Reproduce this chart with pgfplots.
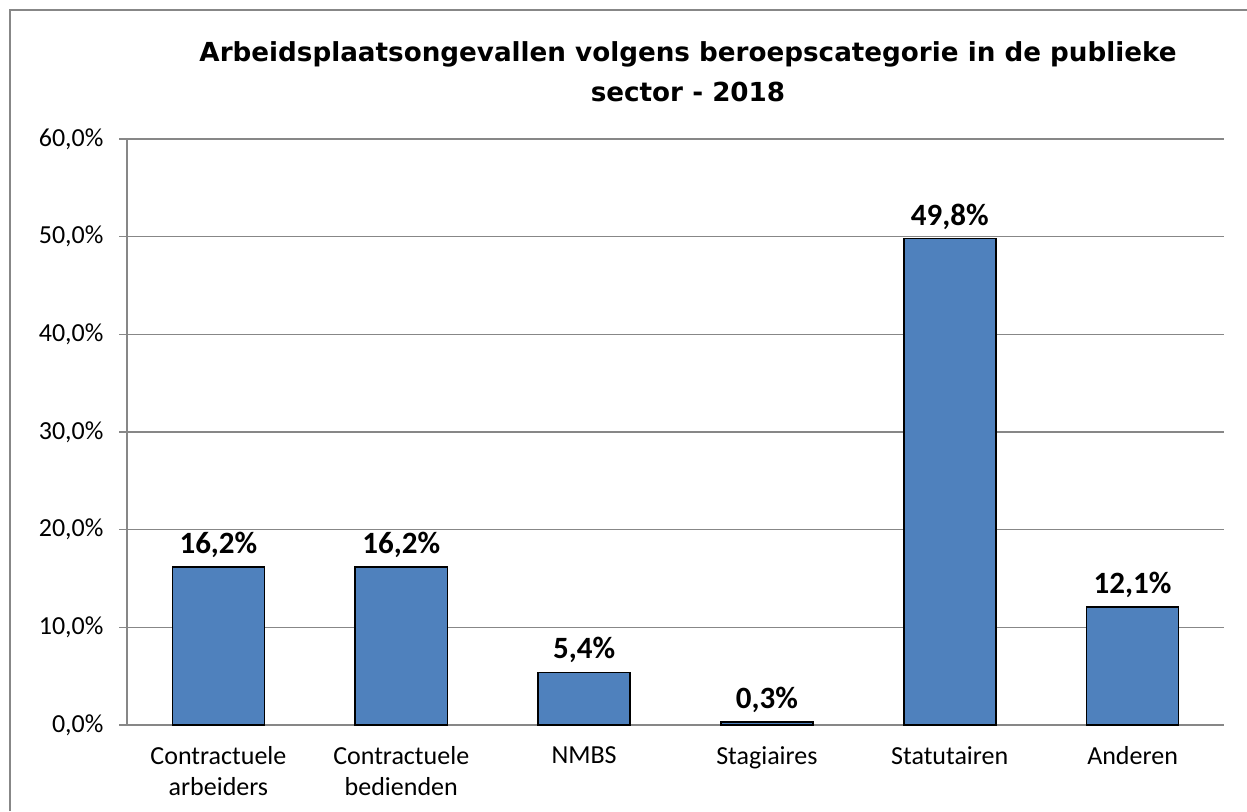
\documentclass[border=0pt]{standalone}
\usepackage{pgfplots}
\pgfplotsset{compat=1.18}
\usepackage{fontspec}
\setmainfont{Carlito}
\newfontfamily\titlefont{DejaVu Sans}
\definecolor{barblue}{HTML}{4F81BD}
\definecolor{gridgray}{HTML}{878787}
\begin{document}
\begin{tikzpicture}[x=1pt,y=1pt]
\useasboundingbox (0,0) rectangle (1247,811);
\draw[gridgray, line width=1.5pt] (10,0) -- (10,801) -- (1247,801);
\node[font=\titlefont\bfseries\fontsize{26.2}{40}\selectfont, align=center] at (688,739) {Arbeidsplaatsongevallen volgens beroepscategorie in de publieke\\sector - 2018};
\begin{axis}[at={(127pt,86pt)}, anchor=south west, scale only axis,
  width=1097pt, height=586pt,
  xmin=-0.5, xmax=5.5, ymin=0, ymax=60,
  axis lines=left,
  axis line style={gridgray, line width=1.2pt, -},
  ymajorgrids, grid style={gridgray, line width=1.2pt},
  tick align=outside, major tick length=8pt,
  tick style={gridgray, line width=1.2pt},
  ytick={0,10,20,30,40,50,60},
  yticklabels={{0,0\%},{10,0\%},{20,0\%},{30,0\%},{40,0\%},{50,0\%},{60,0\%}},
  yticklabel style={font=\fontsize{26}{30}\selectfont, xshift=-12pt},
  xtick={0,1,2,3,4,5},
  xticklabels={{Contractuele\\arbeiders},{Contractuele\\bedienden},{NMBS},{Stagiaires},{Statutairen},{Anderen}},
  xticklabel style={font=\fontsize{26}{31}\selectfont, align=center, anchor=north, yshift=-10pt},
  xtick style={draw=none},
  extra x ticks={-0.5,0.5,1.5,2.5,3.5,4.5,5.5},
  extra x tick labels={},
  extra x tick style={tick style={gridgray, line width=1.2pt}, major tick length=8pt},
  nodes near coords,
  point meta=explicit symbolic,
  nodes near coords style={font=\fontsize{31}{34}\selectfont\bfseries, anchor=south, yshift=5pt},
  clip=false,
]
\addplot[ybar, bar width=92pt, fill=barblue, draw=black, line width=1.5pt]
  coordinates {(0,16.2) [16,2\%] (1,16.2) [16,2\%] (2,5.4) [5,4\%] (3,0.3) [0,3\%] (4,49.8) [49,8\%] (5,12.1) [12,1\%]};
\end{axis}
\end{tikzpicture}
\end{document}
